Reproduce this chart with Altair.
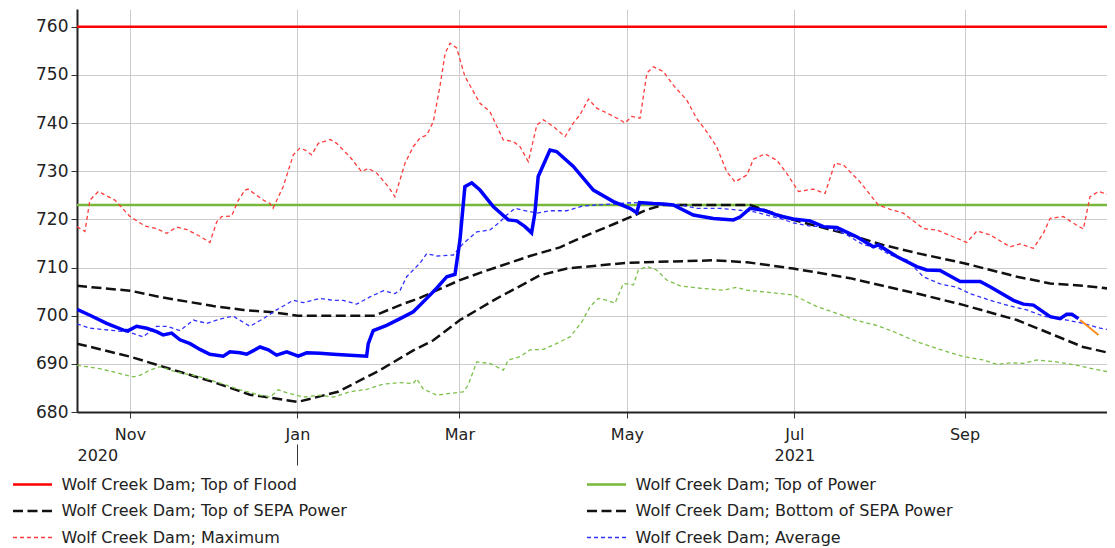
import altair as alt
import pandas as pd

# ---------------- data (day = days since 2020-10-01) ----------------
BASE_DATE = "2020-10-01"
DOMAIN_START_DAY = 11.7
DOMAIN_END_DAY = 386.9
Y_DOMAIN = [680, 763.7]
Y_TICKS = [680, 690, 700, 710, 720, 730, 740, 750, 760]

SERIES = [
    "Wolf Creek Dam; Top of Flood",
    "Wolf Creek Dam; Top of Power",
    "Wolf Creek Dam; Top of SEPA Power",
    "Wolf Creek Dam; Bottom of SEPA Power",
    "Wolf Creek Dam; Maximum",
    "Wolf Creek Dam; Average",
]
COLORS = ["#ff0000", "#77b83a", "#111111", "#111111", "#ff3b3b", "#3030ff"]
DASHES = [[1, 0], [1, 0], [10, 4.5], [10, 4.5], [4, 3], [4, 3]]
WIDTHS = [2.5, 2.5, 2.5, 2.5, 1.3, 1.3]

FLOOD_LEVEL = 760
POWER_TOP = 723
REF_DAYS = [11.7, 389.8]

TOP_SEPA_DAYS = [11.7, 31.0, 41.9, 61.3, 72.3, 83.2, 92.2, 120.3, 122.1, 129.4, 136.6, 151.2, 158.5, 176.7, 187.6,
                 194.9, 207.1, 212.1, 219.3, 225.2, 256.9, 272.6, 293.3, 305.3, 317.7, 334.8, 354.1, 366.2, 378.2, 389.8]
TOP_SEPA_VALS = [706.2, 705.2, 703.9, 702.0, 701.2, 700.7, 700.0, 700.0, 700.5, 702.2, 703.7, 707.4, 708.9, 712.4, 714.2,
                 716.1, 719.0, 720.2, 722.0, 723.0, 723.0, 719.9, 716.8, 714.7, 713.0, 710.9, 708.1, 706.7, 706.2, 705.5]

BOT_SEPA_DAYS = [11.7, 31.0, 60.9, 74.7, 92.2, 106.8, 122.1, 134.2, 141.5, 151.2, 164.7, 180.4, 190.2, 212.1, 243.4,
                 255.8, 272.6, 293.3, 317.7, 334.8, 354.1, 366.2, 378.2, 389.8]
BOT_SEPA_VALS = [694.2, 691.5, 686.3, 683.6, 682.1, 684.2, 688.7, 692.8, 694.9, 699.1, 703.6, 708.4, 709.8, 711.0, 711.5,
                 711.1, 709.8, 707.8, 704.6, 702.2, 699.1, 696.3, 693.5, 692.0]

MAX_DAYS = [11.7, 14.6, 16.4, 19.5, 25.5, 31.0, 36.5, 40.7, 44.4, 48.0, 51.7, 56.5, 60.1, 62.6, 64.4, 68.0, 70.5, 72.9,
            74.0, 79.6, 82.0, 83.1, 86.8, 90.5, 92.9, 94.8, 97.2, 99.6, 103.9, 106.3, 111.1, 115.4, 117.8, 120.9, 125.1,
            127.5, 131.2, 134.2, 136.6, 139.1, 141.5, 143.9, 145.8, 147.6, 150.0, 153.0, 158.5, 162.1, 167.0, 170.6,
            173.1, 176.1, 179.2, 181.6, 185.2, 189.5, 192.5, 194.9, 198.0, 201.0, 204.7, 209.5, 211.3, 213.8, 216.8,
            219.3, 221.6, 225.3, 228.9, 233.8, 237.4, 241.1, 244.7, 248.4, 251.4, 255.7, 258.1, 262.3, 266.6, 270.2,
            274.5, 279.9, 284.2, 287.8, 290.9, 296.9, 303.6, 307.9, 312.7, 320.0, 324.9, 330.9, 335.8, 339.5, 344.3,
            351.6, 355.2, 360.1, 363.7, 366.2, 371.0, 374.7, 378.3, 380.7, 383.8, 388.0, 389.8]
MAX_VALS = [718.5, 717.5, 724.0, 725.8, 724.0, 720.6, 718.6, 718.1, 717.1, 718.4, 717.9, 716.5, 715.2, 719.5, 720.6,
            720.7, 724.0, 726.1, 726.3, 724.0, 723.3, 722.3, 726.8, 733.4, 734.8, 734.4, 733.4, 735.8, 736.6, 735.8,
            733.0, 729.9, 730.6, 729.6, 726.8, 724.7, 731.7, 735.1, 736.9, 737.5, 740.3, 747.6, 754.5, 756.6, 755.6,
            749.7, 744.1, 742.4, 736.5, 736.2, 735.1, 732.0, 739.6, 740.7, 739.3, 737.2, 740.0, 741.7, 745.0, 743.1,
            742.1, 740.7, 740.0, 741.4, 741.0, 750.4, 751.7, 750.7, 747.9, 744.8, 741.0, 738.2, 735.1, 729.9, 727.8,
            729.2, 732.5, 733.6, 732.3, 729.6, 725.8, 726.3, 725.4, 731.7, 731.3, 727.8, 723.0, 722.1, 721.3, 718.1,
            717.8, 716.4, 715.2, 717.6, 716.8, 714.3, 714.9, 714.0, 717.1, 720.2, 720.6, 719.2, 718.0, 724.7, 725.8,
            725.1, 724.4]

AVG_DAYS = [11.7, 16.4, 23.7, 28.6, 31.0, 35.8, 40.7, 44.4, 49.2, 54.1, 58.9, 64.4, 68.6, 74.7, 79.6, 84.4, 90.5, 94.1,
            100.2, 105.1, 108.7, 113.6, 118.4, 123.3, 127.5, 129.4, 131.8, 134.2, 136.6, 139.1, 142.7, 148.8, 152.4,
            157.3, 162.1, 165.8, 168.2, 171.3, 174.3, 179.2, 184.0, 190.1, 196.1, 201.0, 207.1, 214.4, 219.3, 225.3,
            231.4, 237.4, 245.9, 253.2, 258.1, 263.0, 267.8, 272.6, 278.7, 284.8, 292.1, 298.2, 303.0, 307.9, 314.0,
            320.0, 326.1, 332.2, 337.0, 344.3, 351.6, 357.7, 363.7, 372.2, 378.3, 384.4, 389.8]
AVG_VALS = [698.3, 697.4, 697.0, 696.7, 696.5, 695.6, 697.8, 697.8, 696.9, 699.1, 698.4, 699.4, 699.9, 697.8, 699.4,
            701.2, 703.2, 702.7, 703.6, 703.2, 703.2, 702.4, 703.9, 705.2, 704.6, 705.3, 708.1, 709.5, 710.9, 712.9,
            712.4, 712.6, 715.0, 717.4, 717.8, 719.5, 720.9, 722.3, 721.9, 721.3, 721.8, 721.8, 722.8, 723.0, 723.2,
            723.5, 723.3, 723.2, 723.0, 722.3, 722.3, 721.9, 721.6, 720.9, 720.2, 719.3, 718.6, 718.5, 716.8, 714.7,
            714.3, 712.6, 711.6, 708.1, 706.6, 705.9, 704.6, 703.2, 702.0, 701.2, 699.9, 699.1, 698.4, 697.4, 696.9]

MIN_DAYS = [11.7, 20.1, 32.2, 34.6, 38.3, 41.9, 48.0, 56.5, 63.8, 71.1, 78.4, 82.0, 85.0, 89.3, 94.1, 100.2, 105.1,
            111.1, 117.2, 123.3, 129.4, 134.2, 135.4, 137.8, 142.7, 152.4, 154.2, 157.3, 162.1, 167.0, 168.8, 173.1,
            176.7, 181.6, 185.2, 191.3, 195.6, 198.6, 201.6, 204.7, 207.7, 210.7, 214.4, 216.2, 219.3, 222.8, 226.5,
            231.4, 238.7, 247.1, 252.0, 255.7, 267.8, 272.6, 281.2, 288.5, 295.7, 303.0, 309.1, 317.6, 324.9, 334.6,
            341.9, 346.8, 351.6, 356.4, 361.3, 368.6, 375.9, 383.2, 389.8]
MIN_VALS = [689.7, 689.0, 687.3, 687.6, 688.7, 689.4, 688.3, 687.3, 686.0, 684.6, 683.5, 683.1, 684.6, 683.8, 683.1,
            683.5, 683.1, 684.2, 684.7, 685.8, 686.1, 685.9, 686.9, 684.8, 683.5, 684.2, 685.6, 690.4, 690.1, 688.7,
            690.8, 691.5, 692.9, 693.0, 693.9, 695.6, 698.7, 701.9, 703.6, 703.2, 702.6, 706.7, 706.4, 709.5, 710.2,
            709.5, 707.4, 706.2, 705.7, 705.3, 705.9, 705.3, 704.6, 704.3, 701.9, 700.5, 699.0, 698.0, 696.7, 694.6,
            693.2, 691.5, 690.8, 689.9, 690.2, 690.1, 690.8, 690.4, 689.7, 688.8, 688.1]

ACTUAL_DAYS = [11.7, 16.4, 22.5, 28.6, 30.4, 33.4, 37.1, 40.7, 43.1, 46.2, 49.2, 52.9, 56.5, 60.1, 65.0, 67.4, 71.1,
               73.5, 78.4, 81.4, 84.4, 88.1, 92.3, 95.4, 100.2, 105.1, 111.1, 117.2, 117.8, 119.6, 124.5, 129.4, 134.2,
               139.1, 142.7, 146.4, 149.4, 151.2, 153.0, 155.5, 158.5, 163.4, 168.8, 171.9, 174.9, 177.3, 178.5, 179.7,
               184.0, 186.4, 192.5, 199.8, 207.1, 213.1, 215.6, 216.6, 221.6, 225.3, 228.9, 236.2, 243.5, 250.8, 253.2,
               256.9, 261.7, 267.8, 272.6, 278.7, 283.6, 288.5, 295.7, 301.8, 303.6, 310.3, 317.6, 321.2, 326.1, 333.4,
               340.7, 344.3, 352.8, 356.4, 360.1, 366.2, 369.8, 372.2, 374.1, 376.5]
ACTUAL_VALS = [701.3, 700.1, 698.4, 697.0, 696.9, 697.8, 697.4, 696.7, 696.0, 696.4, 695.0, 694.2, 693.0, 692.0, 691.6,
               692.5, 692.3, 692.0, 693.5, 692.9, 691.8, 692.5, 691.6, 692.3, 692.2, 692.0, 691.8, 691.6, 694.2, 696.9,
               698.0, 699.4, 700.8, 703.6, 705.7, 708.1, 708.6, 715.7, 726.8, 727.6, 726.1, 722.6, 719.9, 719.7, 718.5,
               717.2, 721.3, 728.9, 734.4, 734.1, 731.0, 726.1, 723.7, 722.3, 721.4, 723.5, 723.3, 723.2, 723.0, 720.9,
               720.2, 719.9, 720.5, 722.3, 721.9, 720.7, 720.1, 719.7, 718.5, 718.3, 716.4, 714.3, 714.7, 712.3, 710.2,
               709.5, 709.4, 707.1, 707.1, 706.0, 703.2, 702.4, 702.2, 699.8, 699.4, 700.3, 700.3, 699.4]

FORECAST_DAYS = [377.1, 383.8]
FORECAST_VALS = [699.1, 696.0]

MONTH_TICKS = [(2020, 11), (2021, 1), (2021, 3), (2021, 5), (2021, 7), (2021, 9)]
YEAR_TICKS = [(2021, 1), (2021, 7)]


# ---------------- helpers ----------------
def to_dates(days):
    idx = pd.Timestamp(BASE_DATE) + pd.to_timedelta(days, unit="D")
    return list(idx.strftime("%Y-%m-%dT%H:%M:%S"))


def dt_from_day(day):
    t = pd.Timestamp(BASE_DATE) + pd.Timedelta(days=day)
    return alt.DateTime(year=t.year, month=t.month, date=t.day, hours=t.hour, minutes=t.minute, seconds=t.second)


def frame(days, vals, name):
    return pd.DataFrame({"date": to_dates(days), "value": vals, "series": name})


legend_df = pd.concat([
    frame(REF_DAYS, [FLOOD_LEVEL] * len(REF_DAYS), SERIES[0]),
    frame(REF_DAYS, [POWER_TOP] * len(REF_DAYS), SERIES[1]),
    frame(TOP_SEPA_DAYS, TOP_SEPA_VALS, SERIES[2]),
    frame(BOT_SEPA_DAYS, BOT_SEPA_VALS, SERIES[3]),
    frame(MAX_DAYS, MAX_VALS, SERIES[4]),
    frame(AVG_DAYS, AVG_VALS, SERIES[5]),
], ignore_index=True)
min_df = frame(MIN_DAYS, MIN_VALS, "Minimum")
actual_df = frame(ACTUAL_DAYS, ACTUAL_VALS, "Actual")
forecast_df = frame(FORECAST_DAYS, FORECAST_VALS, "Forecast")

FONT = "DejaVu Sans"
TEXT = "#222222"

x_scale = alt.Scale(domain=[dt_from_day(DOMAIN_START_DAY), dt_from_day(DOMAIN_END_DAY)], nice=False)
y_scale = alt.Scale(domain=Y_DOMAIN, nice=False, zero=False)

month_axis = alt.Axis(
    values=[alt.DateTime(year=y, month=m, date=1) for y, m in MONTH_TICKS],
    format="%b", orient="bottom", title=None,
    grid=True, gridColor="#cccccc", gridWidth=1,
    domain=True, domainColor="#222222", domainWidth=2,
    ticks=True, tickSize=6, tickColor="#333333", tickWidth=1,
    labelFont=FONT, labelFontSize=16, labelColor=TEXT, labelPadding=8,
    labelFlush=False, labelOverlap=False,
)
year_axis = alt.Axis(
    values=[dt_from_day(DOMAIN_START_DAY)] + [alt.DateTime(year=y, month=m, date=1) for y, m in YEAR_TICKS],
    labelExpr="month(datum.value) == 0 ? '' : timeFormat(datum.value, '%Y')",
    orient="bottom", offset=32, title=None, grid=False, domain=False,
    ticks=True, tickSize=21, tickColor="#333333", tickWidth=1,
    tickOpacity={"condition": {"test": "month(datum.value) == 0", "value": 1}, "value": 0},
    labelFont=FONT, labelFontSize=16, labelColor=TEXT, labelPadding=-18,
    labelFlush=True, labelOverlap=False,
)
y_axis = alt.Axis(
    values=Y_TICKS, title=None, grid=True, gridColor="#cccccc", gridWidth=1,
    domain=True, domainColor="#222222", domainWidth=2,
    ticks=True, tickSize=6, tickColor="#333333", tickWidth=1,
    labelFont=FONT, labelFontSize=17, labelColor=TEXT, labelPadding=3, labelFlush=False,
)

legend = alt.Legend(
    title=None, orient="none", legendX=-64, legendY=467.5, columns=2, direction="horizontal",
    columnPadding=235, rowPadding=10.5, padding=0,
    symbolType="M-3.9,0H3.9", symbolSize=100, symbolOffset=11.5, labelOffset=21,
    labelFont=FONT, labelFontSize=16, labelColor=TEXT, labelLimit=1000,
)

X_MAIN = alt.X("date:T", scale=x_scale, axis=month_axis)
X_NONE = alt.X("date:T", scale=x_scale, axis=None)
X_YEAR = alt.X("date:T", scale=x_scale, axis=year_axis)
Y_ENC = alt.Y("value:Q", scale=y_scale, axis=y_axis)

ref_layer = alt.Chart(legend_df).mark_line(clip=True).encode(
    x=X_MAIN, y=Y_ENC,
    color=alt.Color("series:N", scale=alt.Scale(domain=SERIES, range=COLORS), legend=legend),
    strokeDash=alt.StrokeDash("series:N", scale=alt.Scale(domain=SERIES, range=DASHES), legend=legend),
    strokeWidth=alt.StrokeWidth("series:N", scale=alt.Scale(type="ordinal", domain=SERIES, range=WIDTHS),
                                legend=legend),
)
min_layer = alt.Chart(min_df).mark_line(clip=True, color="#7cc04a", strokeWidth=1.3, strokeDash=[4, 3]).encode(
    x=X_NONE, y=Y_ENC
)
actual_layer = alt.Chart(actual_df).mark_line(clip=True, color="#0000ff", strokeWidth=3.5).encode(
    x=X_NONE, y=Y_ENC
)
forecast_layer = alt.Chart(forecast_df).mark_line(clip=True, color="#ff8c1a", strokeWidth=2).encode(
    x=X_YEAR, y=Y_ENC
)

chart = alt.layer(ref_layer, min_layer, actual_layer, forecast_layer).resolve_axis(
    x="independent"
).properties(
    width=1030, height=403,
    padding={"left": 69, "top": 1, "right": 0, "bottom": 134},
    autosize=alt.AutoSizeParams(type="none"),
).configure_view(stroke=None)

chart.save("out.html", embed_options={"renderer": "svg", "actions": False})
